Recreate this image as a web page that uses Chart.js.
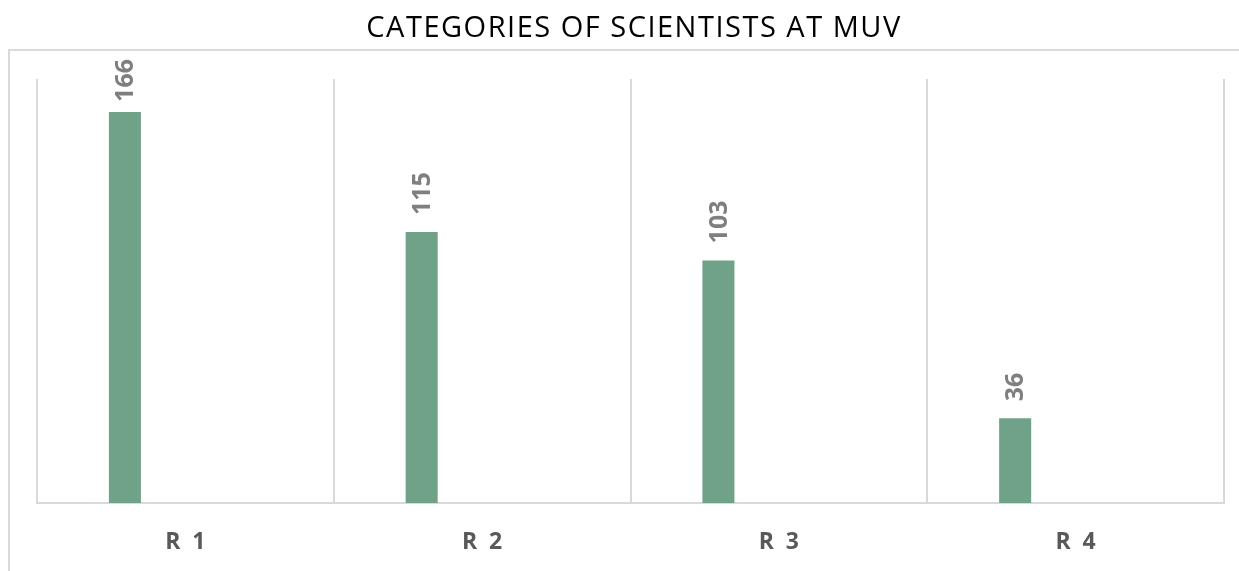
<!DOCTYPE html>
<html>
<head>
<meta charset="utf-8">
<script src="https://cdn.jsdelivr.net/npm/chart.js@4.4.1/dist/chart.umd.min.js"></script>
<style>
  html, body { margin: 0; padding: 0; background: #fff; }
  #wrap { width: 1239px; height: 571px; position: relative; }
</style>
</head>
<body>
<div id="wrap"><canvas id="chart" width="1239" height="571"></canvas></div>
<script>
// chart data
var chartTitle = "CATEGORIES OF SCIENTISTS AT MUV";
var categories = ["R  1", "R  2", "R  3", "R  4"];
var scientists = [166, 115, 103, 36];
var emptySeries = [null, null, null, null];
var yMax = 180;

// outer frame + title (Excel style chart box)
var frameAndTitle = {
	id: "frameAndTitle",
	beforeDraw: function (chart) {
		var ctx = chart.ctx;
		ctx.save();
		ctx.strokeStyle = "#d9d9d9";
		ctx.lineWidth = 2;
		ctx.beginPath();
		ctx.moveTo(9, 571);
		ctx.lineTo(9, 50);
		ctx.lineTo(1239, 50);
		ctx.stroke();
		ctx.fillStyle = "#000";
		ctx.font = "29px 'Open Sans'";
		ctx.letterSpacing = "1.5px";
		ctx.textAlign = "center";
		ctx.textBaseline = "middle";
		ctx.fillText(chartTitle, 634, 29);
		ctx.restore();
	}
};

// rotated value labels above the bars, kept inside the plot box
var valueLabels = {
	id: "valueLabels",
	afterDatasetsDraw: function (chart) {
		var ctx = chart.ctx;
		var meta = chart.getDatasetMeta(0);
		ctx.save();
		ctx.fillStyle = "#7f7f7f";
		ctx.font = "bold 25px 'Open Sans'";
		ctx.textAlign = "left";
		ctx.textBaseline = "middle";
		meta.data.forEach(function (bar, i) {
			var txt = String(scientists[i]);
			var len = ctx.measureText(txt).width;
			var start = bar.y - 17;
			if (start - len < 59) start = 59 + len;
			ctx.save();
			ctx.translate(bar.x, start);
			ctx.rotate(-Math.PI / 2);
			ctx.fillText(txt, 0, 1);
			ctx.restore();
		});
		ctx.restore();
	}
};

var chart = new Chart(document.getElementById("chart"), {
	type: "bar",
	data: {
		labels: categories,
		datasets: [
			{
				label: "Scientists",
				data: scientists,
				backgroundColor: "#70a189",
				borderWidth: 0,
				categoryPercentage: 0.815,
				barPercentage: 0.265
			},
			{
				label: "",
				data: emptySeries,
				backgroundColor: "#70a189",
				categoryPercentage: 0.815,
				barPercentage: 0.265
			}
		]
	},
	options: {
		responsive: false,
		animation: false,
		layout: {
			padding: { left: 37, right: 15, top: 79, bottom: 0 }
		},
		plugins: {
			legend: { display: false },
			title: { display: false },
			tooltip: { enabled: false }
		},
		scales: {
			x: {
				grid: {
					display: true,
					color: "#d9d9d9",
					lineWidth: 2,
					drawTicks: false,
					offset: true
				},
				border: { display: true, color: "#d9d9d9", width: 2 },
				ticks: {
					color: "#595959",
					font: { family: "'Open Sans'", size: 23, weight: "bold" },
					padding: 26,
					maxRotation: 0
				},
				afterFit: function (scale) { scale.height = 68; }
			},
			y: {
				display: false,
				min: 0,
				max: yMax
			}
		}
	},
	plugins: [frameAndTitle, valueLabels]
});
</script>
</body>
</html>
